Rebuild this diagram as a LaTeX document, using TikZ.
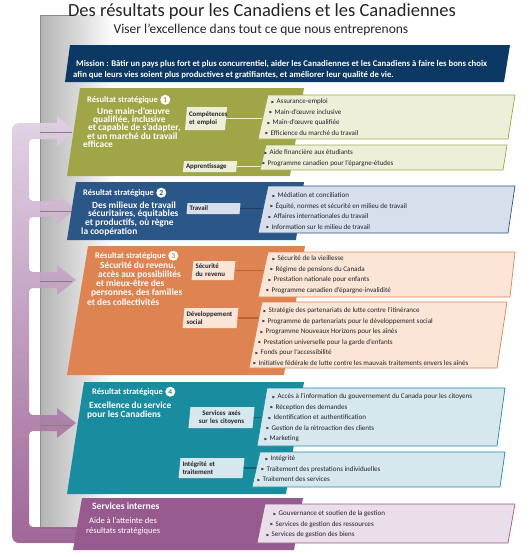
\documentclass[tikz,border=0pt]{standalone}
\usepackage{fontspec}
\setmainfont{Carlito}
\usepackage{amssymb}
\usetikzlibrary{shapes.geometric, positioning}

\definecolor{inknavy}{RGB}{12,56,100}
\definecolor{olivebox}{RGB}{160,166,72}
\definecolor{olivelt}{RGB}{238,239,217}
\definecolor{olivedk}{RGB}{120,126,45}
\definecolor{bluebox}{RGB}{42,86,136}
\definecolor{bluelt}{RGB}{216,223,236}
\definecolor{bluedk}{RGB}{30,62,104}
\definecolor{orangebox}{RGB}{222,132,82}
\definecolor{orangelt}{RGB}{251,229,214}
\definecolor{orangedk}{RGB}{190,98,52}
\definecolor{tealbox}{RGB}{26,140,160}
\definecolor{teallt}{RGB}{214,232,238}
\definecolor{tealdk}{RGB}{14,98,118}
\definecolor{plumbox}{RGB}{150,90,142}
\definecolor{plumlt}{RGB}{233,222,233}
\definecolor{plumtop}{RGB}{224,208,228}
\definecolor{darktxt}{RGB}{35,35,40}

\newcommand\bul{\raisebox{0.5pt}{\scalebox{0.55}{$\blacktriangleright$}}\hspace{2pt}}
\newcommand\shiftln[1]{\hspace*{#1pt}}

\begin{document}
\begin{tikzpicture}[x=1pt,y=-1pt,
  restitle/.style={anchor=base west, inner sep=0pt, text=white, font=\fontsize{8.5}{9}\selectfont\bfseries},
  resdesc/.style={anchor=base west, inner sep=0pt, align=left, text=white, font=\fontsize{9.4}{#1}\selectfont\bfseries},
  numdot/.style={circle, fill=white, inner sep=0pt, minimum size=10pt, right=2pt of #1, font=\fontsize{7.5}{8}\selectfont\bfseries},
  progbox/.style={trapezium, trapezium left angle=83, trapezium right angle=97, trapezium stretches=true,
    inner xsep=2pt, inner ysep=1.5pt, align=left, text=darktxt, font=\fontsize{6.9}{7.8}\selectfont\bfseries},
  itemlist/.style={anchor=base west, inner sep=0pt, align=left, text=darktxt, font=\fontsize{7.05}{10.5}\selectfont},
  listbox/.style={line width=0.7pt},
  link/.style={line width=1.5pt},
]
\useasboundingbox (0,0) rectangle (529,557);

% grey panel behind the results
\shade[left color=black!30, right color=white] (40,15) rectangle (115,528);
\draw[black!45, line width=0.7pt] (70,15) -- (40,15) -- (40,528) -- (86,528);

% purple bracket with arrows
\shade[top color=plumtop, bottom color=plumbox, opacity=0.92]
  [rounded corners=7pt] (12,300) -- (12,123) [sharp corners] -- (57,123) -- (57,116) -- (76,131) -- (57,146) -- (57,139)
  [rounded corners=4pt] -- (29,139) -- (29,201) [sharp corners] -- (57,201) -- (57,194) -- (76,209) -- (57,224) -- (57,217)
  [rounded corners=4pt] -- (29,217) -- (29,272) [sharp corners] -- (57,272) -- (57,265) -- (76,280) -- (57,295) -- (57,288)
  [rounded corners=4pt] -- (29,288) -- (29,415) [sharp corners] -- (57,415) -- (57,408) -- (76,423) -- (57,438) -- (57,431)
  [rounded corners=4pt] -- (29,431) -- (29,527) [sharp corners] -- (86,527) -- (86,543)
  [rounded corners=7pt] -- (12,543) -- (12,300) -- cycle;
\foreach \yy in {132,211,281,425}
  \draw[black!50, line width=0.5pt] (40,\yy) -- (72,\yy);

% heading
\node (head) [anchor=base, font=\fontsize{18.5}{20}\selectfont, text=darktxt] at (262,16)
  {Des résultats pour les Canadiens et les Canadiennes};
\node (sub) [anchor=base, font=\fontsize{13.5}{15}\selectfont, text=darktxt] at (261,33)
  {Viser l’excellence dans tout ce que nous entreprenons};

% mission
\fill[inknavy] (70,45) -- (510,45) -- (504,82) -- (65,82) -- cycle;
\node (mission) [anchor=base west, inner sep=0pt, align=left, text=white, font=\fontsize{8.7}{11}\selectfont\bfseries] at (73,77)
  {\shiftln{3}Mission : Bâtir un pays plus fort et plus concurrentiel, aider les Canadiennes et les Canadiens à faire les bons choix\\
   afin que leurs vies soient plus productives et gratifiantes, et améliorer leur qualité de vie.};

% result blocks
\fill[olivebox] (80,88) -- (304,88) -- (290,176) -- (67,176) -- cycle;
\fill[bluebox] (76,182) -- (304,182) -- (296,240) -- (67,240) -- cycle;
\fill[orangebox] (88,246) -- (305,246) -- (284,375) -- (67,375) -- cycle;
\fill[tealbox] (84,382) -- (304,382) -- (286,494) -- (67,494) -- cycle;
\fill[plumbox] (82,498) -- (303,498) -- (294,550) -- (73,550) -- cycle;

% result 1
\node (r1t) [restitle] at (87,102) {Résultat stratégique};
\node (r1n) [numdot=r1t, text=olivebox] {1};
\node (r1d) [resdesc=8.4] at (83,147.6)
  {\shiftln{14}Une main-d’œuvre\\\shiftln{10}qualifiée, inclusive\\\shiftln{5}et capable de s’adapter,\\\shiftln{4}et un marché du travail\\efficace};
\node (comp) [progbox, fill=olivelt, text width=34pt, minimum height=23pt] at (206,118.5) {Compétences\\et emploi};
\node (appr) [progbox, fill=olivelt, text width=48pt, minimum height=11pt] at (210,166.5) {Apprentissage};
\coordinate (r1a) at (262.7,118.5);
\coordinate (r1b) at (260.8,166.5);
\draw[link, olivelt] (comp.east) -- (comp.east -| r1a);
\draw[link, olivelt] (appr.east) -- (appr.east -| r1b);
\filldraw[listbox, fill=olivelt, draw=olivebox] (268,95) -- (515,95) -- (508,139) -- (258,139) -- cycle;
\filldraw[listbox, fill=olivelt, draw=olivebox] (266,145) -- (507,145) -- (503,170) -- (260,170) -- cycle;
\node (r1al) [itemlist] at (265,135)
  {\shiftln{6}\bul Assurance-emploi\\\shiftln{4}\bul Main-d’œuvre inclusive\\\shiftln{2}\bul Main-d’œuvre qualifiée\\\bul Efficience du marché du travail};
\node (r1bl) [itemlist] at (262,165)
  {\shiftln{2}\bul Aide financière aux étudiants\\\bul Programme canadien pour l’épargne-études};

% result 2
\node (r2t) [restitle] at (83,195) {Résultat stratégique};
\node (r2n) [numdot=r2t, text=bluebox] {2};
\node (r2d) [resdesc=8.7] at (81,234.1)
  {\shiftln{11}Des milieux de travail\\\shiftln{7}sécuritaires, équitables\\\shiftln{4}et productifs, où règne\\la coopération};
\node (trav) [progbox, fill=bluelt, text width=48pt, minimum height=11pt] at (213.5,208.5) {Travail};
\coordinate (r2a) at (263.2,208.5);
\draw[link, bluedk] (trav.east) -- (trav.east -| r2a);
\filldraw[listbox, fill=bluelt, draw=bluebox] (268,186) -- (515,186) -- (508,233) -- (258,233) -- cycle;
\node (r2al) [itemlist] at (266,229)
  {\shiftln{6}\bul Médiation et conciliation\\\shiftln{4}\bul Équité, normes et sécurité en milieu de travail\\\shiftln{2}\bul Affaires internationales du travail\\\bul Information sur le milieu de travail};

% result 3
\node (r3t) [restitle] at (95,258) {Résultat stratégique};
\node (r3n) [numdot=r3t, text=orangebox] {3};
\node (r3d) [resdesc=9.3] at (87,305.2)
  {\shiftln{13}Sécurité du revenu,\\\shiftln{11}accès aux possibilités\\\shiftln{9}et mieux-être des\\\shiftln{4}personnes, des familles\\et des collectivités};
\node (secu) [progbox, fill=orangelt, text width=36pt, minimum height=19pt] at (213.5,270.5) {Sécurité\\du revenu};
\node (devs) [progbox, fill=orangelt, text width=48pt, minimum height=20pt] at (210.5,318) {Développement\\social};
\coordinate (r3a) at (263.9,270.5);
\coordinate (r3b) at (258.8,318);
\draw[link, orangedk] (secu.east) -- (secu.east -| r3a);
\draw[link, orangedk] (devs.east) -- (devs.east -| r3b);
\filldraw[listbox, fill=orangelt, draw=orangebox] (268,252) -- (515,252) -- (510,297) -- (258,297) -- cycle;
\filldraw[listbox, fill=orangelt, draw=orangebox] (262,302) -- (507,302) -- (497,368) -- (249,368) -- cycle;
\node (r3al) [itemlist] at (266,292)
  {\shiftln{6}\bul Sécurité de la vieillesse\\\shiftln{4}\bul Régime de pensions du Canada\\\shiftln{2}\bul Prestation nationale pour enfants\\\bul Programme canadien d’épargne-invalidité};
\node (r3bl) [itemlist] at (253,365)
  {\shiftln{10}\bul Stratégie des partenariats de lutte contre l’itinérance\\\shiftln{9}\bul Programme de partenariats pour le développement social\\\shiftln{7}\bul Programme Nouveaux Horizons pour les aînés\\\shiftln{5}\bul Prestation universelle pour la garde d’enfants\\\shiftln{2}\bul Fonds pour l’accessibilité\\\bul Initiative fédérale de lutte contre les mauvais traitements envers les aînés};

% result 4
\node (r4t) [restitle] at (92,394) {Résultat stratégique};
\node (r4n) [numdot=r4t, text=tealbox] {4};
\node (r4d) [resdesc=8.6] at (87,417.1)
  {\shiftln{2}Excellence du service\\pour les Canadiens};
\node (serv) [progbox, fill=teallt, text width=58pt, minimum height=21pt, align=center] at (221.5,417.5) {Services axés\\sur les citoyens};
\node (intg) [progbox, fill=teallt, text width=58pt, minimum height=20pt] at (211.5,468) {Intégrité et\\traitement};
\coordinate (r4a) at (261.9,417.5);
\coordinate (r4b) at (256.3,468);
\draw[link, tealdk] (serv.east) -- (serv.east -| r4a);
\draw[link, tealdk] (intg.east) -- (intg.east -| r4b);
\filldraw[listbox, fill=teallt, draw=tealbox] (267,388) -- (505,388) -- (497,446) -- (257,446) -- cycle;
\filldraw[listbox, fill=teallt, draw=tealbox] (260,452) -- (505,452) -- (500,487) -- (252,487) -- cycle;
\node (r4al) [itemlist] at (264,440.5)
  {\shiftln{8}\bul Accès à l’information du gouvernement du Canada pour les citoyens\\\shiftln{6}\bul Réception des demandes\\\shiftln{4}\bul Identification et authentification\\\shiftln{2}\bul Gestion de la rétroaction des clients\\\bul Marketing};
\node (r4bl) [itemlist] at (257,481.5)
  {\shiftln{8}\bul Intégrité\\\shiftln{4}\bul Traitement des prestations individuelles\\\bul Traitement des services};

% internal services
\node (sit) [restitle, font=\fontsize{9.6}{10}\selectfont\bfseries] at (92,509) {Services internes};
\node (sid) [anchor=base west, inner sep=0pt, align=left, text=white, font=\fontsize{8.5}{10}\selectfont] at (86,533)
  {\shiftln{3}Aide à l’atteinte des\\résultats stratégiques};
\filldraw[listbox, fill=plumlt, draw=plumbox] (265,504) -- (515,504) -- (508,543) -- (257,543) -- cycle;
\node (sil) [itemlist] at (266,536.5)
  {\shiftln{7}\bul Gouvernance et soutien de la gestion\\\shiftln{4}\bul Services de gestion des ressources\\\bul Services de gestion des biens};
\end{tikzpicture}
\end{document}
